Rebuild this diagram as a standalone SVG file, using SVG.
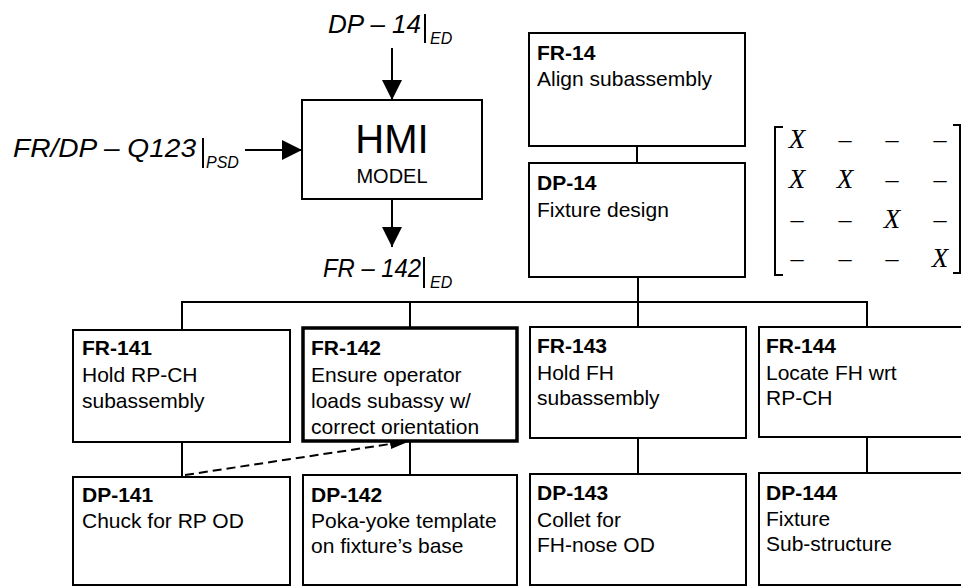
<svg xmlns="http://www.w3.org/2000/svg" width="961" height="587" viewBox="0 0 961 587">
<style>
.box{fill:#fff;stroke:#000;stroke-width:2}
.thick{fill:#fff;stroke:#000;stroke-width:3.5}
.ln{stroke:#000;stroke-width:2;fill:none}
.t{font-family:"Liberation Sans",Arial,sans-serif;font-size:21px;fill:#000}
.b{font-weight:bold}
.it{font-family:"Liberation Sans",Arial,sans-serif;font-style:italic;fill:#000}
.mx{font-family:"Liberation Serif","Times New Roman",serif;font-style:italic;font-size:27px;fill:#000;text-anchor:middle}
.md{font-family:"Liberation Serif","Times New Roman",serif;font-size:26px;fill:#000;text-anchor:middle}
</style>
<defs>
<marker id="ah" viewBox="0 0 20 20" refX="20" refY="10" markerWidth="20" markerHeight="20" markerUnits="userSpaceOnUse" orient="auto">
<path d="M0,0 L20,10 L0,20 Z" fill="#000"/>
</marker>
<marker id="ahs" viewBox="0 0 20 10" refX="20" refY="5" markerWidth="20" markerHeight="10" markerUnits="userSpaceOnUse" orient="auto">
<path d="M0,0 L20,5 L0,10 Z" fill="#000"/>
</marker>
</defs>

<g id="connectors">
<line class="ln" x1="392" y1="48" x2="392" y2="100" marker-end="url(#ah)"/>
<line class="ln" x1="245" y1="150" x2="302" y2="150" marker-end="url(#ah)"/>
<line class="ln" x1="392" y1="199" x2="392" y2="247" marker-end="url(#ah)"/>
<line class="ln" x1="637" y1="146" x2="637" y2="163"/>
<line class="ln" x1="638" y1="277" x2="638" y2="302"/>
<polyline class="ln" points="182,330 182,302 867,302 867,327"/>
<line class="ln" x1="410" y1="302" x2="410" y2="328"/>
<line class="ln" x1="638" y1="302" x2="638" y2="327"/>
<line class="ln" x1="182" y1="442" x2="182" y2="477"/>
<line class="ln" x1="410" y1="441" x2="410" y2="475"/>
<line class="ln" x1="638" y1="438" x2="638" y2="474"/>
<line class="ln" x1="867" y1="437" x2="867" y2="473"/>
<line class="ln" x1="185" y1="475" x2="410" y2="441" stroke-width="2.5" stroke-dasharray="9,5" marker-end="url(#ahs)"/>
</g>

<g id="labels">
<text class="it" x="328" y="33" font-size="26">DP – 14</text>
<line class="ln" x1="425" y1="14" x2="425" y2="43" stroke-width="1.5"/>
<text class="it" x="430" y="44" font-size="16">ED</text>
<text class="it" x="13" y="157" font-size="26" textLength="183" lengthAdjust="spacingAndGlyphs">FR/DP – Q123</text>
<line class="ln" x1="203" y1="138" x2="203" y2="168" stroke-width="1.5"/>
<text class="it" x="206" y="168" font-size="16">PSD</text>
<text class="it" x="323" y="277" font-size="26" textLength="98" lengthAdjust="spacingAndGlyphs">FR – 142</text>
<line class="ln" x1="424" y1="257" x2="424" y2="288" stroke-width="1.5"/>
<text class="it" x="430" y="288" font-size="16">ED</text>
</g>

<g id="hmi">
<rect class="box" x="302" y="100" width="180" height="99"/>
<text x="392" y="153" font-family="Liberation Sans,Arial,sans-serif" font-size="40" text-anchor="middle">HMI</text>
<text x="392" y="183" font-family="Liberation Sans,Arial,sans-serif" font-size="20" text-anchor="middle">MODEL</text>
</g>

<g id="fr14">
<rect class="box" x="529" y="33" width="216" height="113"/>
<text class="t b" x="537" y="60">FR-14</text>
<text class="t" x="537" y="86">Align subassembly</text>
</g>
<g id="dp14">
<rect class="box" x="529" y="163" width="216" height="114"/>
<text class="t b" x="537" y="190">DP-14</text>
<text class="t" x="537" y="217">Fixture design</text>
</g>

<g id="matrix">
<path class="ln" d="M783,127 L775,127 L775,275 L783,275" stroke-width="1.5"/>
<path class="ln" d="M953,125 L960,125 L960,273 L953,273" stroke-width="1.5"/>
<text class="mx" x="797" y="148">X</text><text class="md" x="845" y="148">–</text><text class="md" x="892" y="148">–</text><text class="md" x="940" y="148">–</text>
<text class="mx" x="797" y="188">X</text><text class="mx" x="845" y="188">X</text><text class="md" x="892" y="188">–</text><text class="md" x="940" y="188">–</text>
<text class="md" x="797" y="228">–</text><text class="md" x="845" y="228">–</text><text class="mx" x="892" y="228">X</text><text class="md" x="940" y="228">–</text>
<text class="md" x="797" y="267">–</text><text class="md" x="845" y="267">–</text><text class="md" x="892" y="267">–</text><text class="mx" x="940" y="267">X</text>
</g>

<g id="fr141">
<rect class="box" x="73" y="330" width="217" height="112"/>
<text class="t b" x="82" y="355">FR-141</text>
<text class="t" x="82" y="382">Hold RP-CH</text>
<text class="t" x="82" y="408">subassembly</text>
</g>
<g id="fr142">
<rect class="thick" x="303" y="328" width="214" height="113"/>
<text class="t b" x="311" y="355">FR-142</text>
<text class="t" x="311" y="382">Ensure operator</text>
<text class="t" x="311" y="408">loads subassy w/</text>
<text class="t" x="311" y="434">correct orientation</text>
</g>
<g id="fr143">
<rect class="box" x="530" y="327" width="216" height="111"/>
<text class="t b" x="537" y="353">FR-143</text>
<text class="t" x="537" y="380">Hold FH</text>
<text class="t" x="537" y="405">subassembly</text>
</g>
<g id="fr144">
<rect class="box" x="759" y="327" width="215" height="110"/>
<text class="t b" x="766" y="353">FR-144</text>
<text class="t" x="766" y="380">Locate FH wrt</text>
<text class="t" x="766" y="405">RP-CH</text>
</g>

<g id="dp141">
<rect class="box" x="73" y="477" width="217" height="108"/>
<text class="t b" x="82" y="502">DP-141</text>
<text class="t" x="82" y="528">Chuck for RP OD</text>
</g>
<g id="dp142">
<rect class="box" x="303" y="475" width="214" height="110"/>
<text class="t b" x="311" y="502">DP-142</text>
<text class="t" x="311" y="528">Poka-yoke template</text>
<text class="t" x="311" y="553">on fixture’s base</text>
</g>
<g id="dp143">
<rect class="box" x="530" y="474" width="216" height="111"/>
<text class="t b" x="537" y="500">DP-143</text>
<text class="t" x="537" y="527">Collet for</text>
<text class="t" x="537" y="552">FH-nose OD</text>
</g>
<g id="dp144">
<rect class="box" x="759" y="473" width="215" height="112"/>
<text class="t b" x="766" y="500">DP-144</text>
<text class="t" x="766" y="526">Fixture</text>
<text class="t" x="766" y="551">Sub-structure</text>
</g>
</svg>
